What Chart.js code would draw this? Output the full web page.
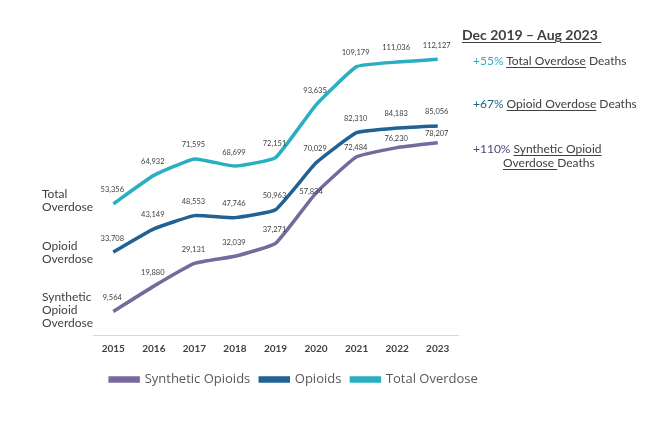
<!DOCTYPE html>
<html>
<head>
<meta charset="utf-8">
<script src="https://cdn.jsdelivr.net/npm/chart.js@4.4.0/dist/chart.umd.min.js"></script>
<style>
  html, body { margin: 0; padding: 0; background: #fff; }
  #wrap { position: relative; width: 658px; height: 438px; font-family: Lato, "Open Sans", sans-serif; color: #404040; }
  canvas { position: absolute; left: 0; top: 0; }
  .t { position: absolute; white-space: nowrap; }
  .u { text-decoration: underline; text-underline-offset: 2px; }
  .side { font-size: 12px; line-height: 13px; color: #404040; }
</style>
</head>
<body>
<div id="wrap">
  <canvas id="c" width="658" height="438"></canvas>
  <div class="t side" style="left:42px; top:187px;">Total<br>Overdose</div>
  <div class="t side" style="left:42px; top:239px;">Opioid<br>Overdose</div>
  <div class="t side" style="left:42px; top:290px;">Synthetic<br>Opioid<br>Overdose</div>
  <div class="t u" style="left:462px; top:26px; font-size:14px; font-weight:bold; color:#404040;">Dec 2019 – Aug 2023&nbsp;</div>
  <div class="t" style="left:473px; top:53px; font-size:12px;"><span style="color:#2AAFC2;">+55%</span> <span class="u">Total Overdose</span> Deaths</div>
  <div class="t" style="left:473px; top:96px; font-size:12px;"><span style="color:#1F5F8B;">+67%</span> <span class="u">Opioid Overdose</span> Deaths</div>
  <div class="t" style="left:473px; top:141px; font-size:12px;"><span style="color:#4B4A78;">+110%</span> <span class="u">Synthetic Opioid</span></div>
  <div class="t" style="left:503px; top:155px; font-size:12px;"><span class="u">Overdose </span>Deaths</div>
</div>
<script>
const years = ["2015","2016","2017","2018","2019","2020","2021","2022","2023"];
const syntheticOpioids = [9564, 19880, 29131, 32039, 37271, 57834, 72484, 76230, 78207];
const opioids = [33708, 43149, 48553, 47746, 50963, 70029, 82310, 84183, 85056];
const totalOverdose = [53356, 64932, 71595, 68699, 72151, 93635, 109179, 111036, 112127];

const colSynth = "#77699B";
const colOpioid = "#1F6293";
const colTotal = "#2AAFC2";

const labelPlugin = {
  id: "pointLabels",
  afterDatasetsDraw(chart) {
    const ctx = chart.ctx;
    ctx.save();
    ctx.font = "7.5px Lato, 'Open Sans', sans-serif";
    ctx.fillStyle = "#404040";
    ctx.textAlign = "center";
    ctx.textBaseline = "middle";
    chart.data.datasets.forEach((ds, di) => {
      const meta = chart.getDatasetMeta(di);
      meta.data.forEach((pt, i) => {
        let dx = -1, dy = -14;
        if (di === 0 && i === 5) { dx = -5; dy = -1; }
        else if (di === 0 && i > 5) { dy = -9.5; }
        const txt = ds.data[i].toLocaleString("en-US");
        ctx.fillText(txt, pt.x + dx, pt.y + dy);
      });
    });
    ctx.restore();
  }
};

const spacer = (w) => ({
  display: true,
  min: 0, max: 1,
  grid: { display: false, drawTicks: false },
  border: { display: false },
  ticks: { display: false },
  afterFit(scale) { scale.width = w; }
});

new Chart(document.getElementById("c"), {
  type: "line",
  data: {
    labels: years,
    datasets: [
      { label: "Synthetic Opioids", data: syntheticOpioids, borderColor: colSynth, backgroundColor: colSynth, borderWidth: 3.5, pointRadius: 0, tension: 0.12, yAxisID: "y" },
      { label: "Opioids", data: opioids, borderColor: colOpioid, backgroundColor: colOpioid, borderWidth: 3.5, pointRadius: 0, tension: 0.12, yAxisID: "y" },
      { label: "Total Overdose", data: totalOverdose, borderColor: colTotal, backgroundColor: colTotal, borderWidth: 3.5, pointRadius: 0, tension: 0.12, yAxisID: "y" }
    ]
  },
  options: {
    responsive: false,
    animation: false,
    layout: { padding: { left: 0, right: 70, top: 40, bottom: 42 } },
    plugins: {
      tooltip: { enabled: false },
      legend: {
        position: "bottom",
        labels: {
          boxWidth: 28, boxHeight: 3, padding: 10,
          color: "#595959",
          font: { family: "'Open Sans', Lato, sans-serif", size: 13 }
        }
      }
    },
    scales: {
      x: {
        offset: true,
        grid: { display: false, drawTicks: false },
        border: { color: "#D9D9D9", width: 1 },
        ticks: { color: "#404040", font: { family: "Lato, 'Open Sans', sans-serif", size: 10, weight: "bold" }, padding: 8 }
      },
      yl: Object.assign(spacer(93), { position: "left" }),
      y: { display: false, min: 0, max: 120000 },
      yr: Object.assign(spacer(130), { position: "right" })
    }
  },
  plugins: [labelPlugin]
});
</script>
</body>
</html>
